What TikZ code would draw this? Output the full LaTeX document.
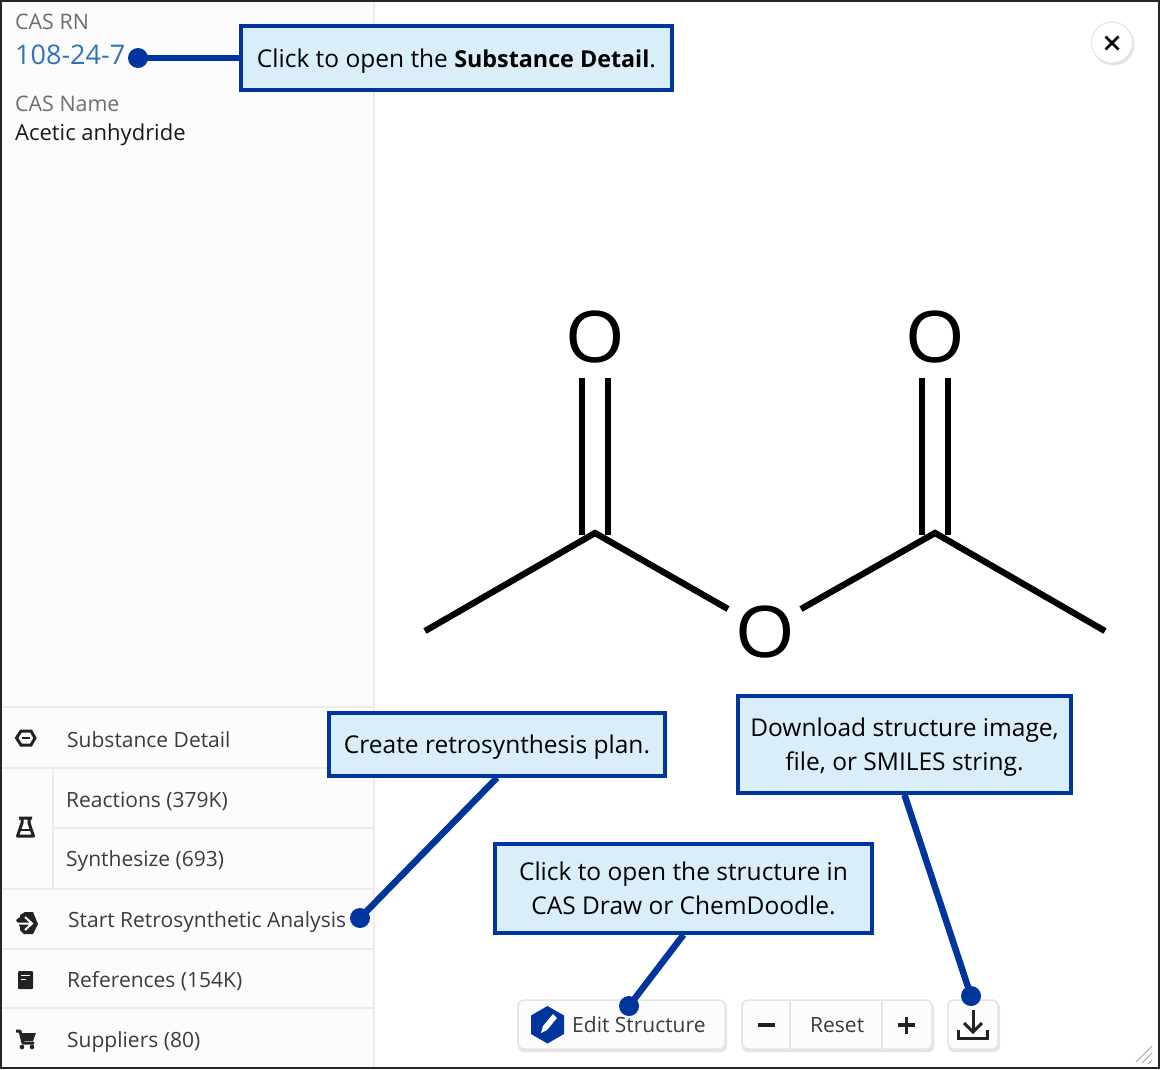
\documentclass[tikz,border=0pt]{standalone}
\usepackage{fontspec}
\setmainfont{Open Sans}
\newfontfamily\atomfont{Liberation Sans}
\definecolor{calloutblue}{HTML}{00359E}
\definecolor{calloutfill}{HTML}{DAEEFA}
\definecolor{panelfill}{HTML}{FCFCFC}
\definecolor{rulegray}{HTML}{ECECEC}
\definecolor{btnline}{HTML}{E4E4E4}
\definecolor{labelgray}{HTML}{6E6E6E}
\definecolor{textdark}{HTML}{3C3C3C}
\definecolor{linkblue}{HTML}{2F74B8}
\definecolor{icondark}{HTML}{222222}
\newcommand\dropthree[1]{\raisebox{-3pt}[\height][\depth]{#1}}
\newcommand\boldpart[1]{{\fontsize{23.3}{34}\selectfont\bfseries #1}}
\tikzset{
  callout/.style={draw=calloutblue,line width=3.5pt,fill=calloutfill,align=center,inner sep=0pt,font=\fontsize{24.5}{34}\selectfont,text=black},
  leader/.style={draw=calloutblue,line width=6.5pt},
  dotmark/.style={circle,fill=calloutblue,inner sep=0pt,minimum size=20pt},
  rowtext/.style={anchor=base west,inner sep=0pt,text=textdark,font=\fontsize{21}{25}\selectfont},
  headlabel/.style={anchor=base west,inner sep=0pt,text=labelgray,font=\fontsize{21.4}{25}\selectfont},
  panelrule/.style={draw=rulegray,line width=1.5pt},
  btn/.style={draw=btnline,line width=1.5pt,fill=panelfill,rounded corners=6pt},
  btnshadow/.style={fill=btnline,rounded corners=6pt},
  atom/.style={inner sep=0pt,font=\atomfont\fontsize{74}{74}\selectfont,text=black},
  bond/.style={draw=black,line width=6.3pt},
  icon/.style={draw=icondark,line width=3pt},
  iconfill/.style={fill=icondark},
}
\begin{document}
\begin{tikzpicture}[x=1pt,y=-1pt]
\useasboundingbox (0,0) rectangle (1160,1069);
\fill[white] (0,0) rectangle (1160,1069);
% left panel
\fill[panelfill] (2,2) rectangle (374,1067);
\draw[panelrule] (374,2) -- (374,1067);
\draw[panelrule] (2,707) -- (374,707);
\draw[panelrule] (2,768) -- (374,768);
\draw[panelrule] (53,828) -- (374,828);
\draw[panelrule] (2,889) -- (374,889);
\draw[panelrule] (2,949) -- (374,949);
\draw[panelrule] (2,1008) -- (374,1008);
\draw[panelrule] (53,768) -- (53,889);
% header text
\node[headlabel] (casrn) at (15,29) {CAS RN};
\node[anchor=base west,inner sep=0pt,text=linkblue,font=\fontsize{27}{30}\selectfont] (rn) at (15,64) {108-24-7};
\node[headlabel] (casname) at (15,111) {CAS Name};
\node[anchor=base west,inner sep=0pt,text=black!90,font=\fontsize{22}{25}\selectfont] (name) at (15,140) {Acetic anhydride};
% rows
\node[rowtext] (r1) at (67,747) {Substance Detail};
\node[rowtext] (r2) at (66,807) {Reactions (379K)};
\node[rowtext] (r3) at (66,866) {Synthesize (693)};
\node[rowtext] (r4) at (68,927) {Start Retrosynthetic Analysis};
\node[rowtext] (r5) at (67,987) {References (154K)};
\node[rowtext] (r6) at (67,1047) {Suppliers (80)};
% row icons
\draw[icon] (16.5,738) -- (21,731) -- (31,731) -- (35,738) -- (31,745) -- (21,745) -- cycle;
\draw[icon,line width=2pt] (22,738) -- (30,738);
\draw[icon,line join=round] (19,818) -- (32,818) (22,818) -- (22,823) -- (17.5,836) -- (33.5,836) -- (29,823) -- (29,818);
\draw[icon,line width=2pt] (20,830) -- (31,830);
\fill[icondark] (16,920) -- (20,917) -- (20,915) -- (25,912) -- (33,912) -- (38,924) -- (33,934) -- (24,934) -- (20,930) -- (20,927) -- cycle;
\draw[white,line width=2pt] (15,923.5) -- (30,923.5) (25,917) -- (32,923.5) -- (25,930);
\fill[icondark,rounded corners=1pt] (18,971) rectangle (33,989);
\draw[white,line width=1.5pt] (21,975.5) -- (30,975.5) (21,979.5) -- (26,979.5);
\draw[icon,line join=round] (16,1031) -- (20,1031) -- (23,1043) -- (34,1043);
\fill[icondark] (21,1033) -- (36,1033) -- (33,1041) -- (23,1041) -- cycle;
\fill[icondark] (22,1047) circle (2.3) (32,1047) circle (2.3);
% close button
\fill[btnline] (1113.5,44.5) circle (21);
\draw[draw=btnline,line width=1pt,fill=white] (1112,42.5) circle (20.5);
\draw[draw=black,line width=2.8pt] (1105.5,36.5) -- (1118.5,49.5) (1118.5,36.5) -- (1105.5,49.5);
% molecule
\node[atom] (o1) at (595,337) {O};
\node[atom] (o2) at (935,337) {O};
\node[atom] (o3) at (765,632) {O};
\coordinate (c1) at (595,533);
\coordinate (c2) at (935,533);
\coordinate (me1) at (425,631);
\coordinate (me2) at (1105,631);
\coordinate (o3l) at (728,609);
\coordinate (o3r) at (801,609);
\draw[bond,line join=miter] (me1) -- (c1) -- (o3l);
\draw[bond,line join=miter] (o3r) -- (c2) -- (me2);
\draw[bond] (582,378) -- (582,535) (608,378) -- (608,535);
\draw[bond] (922,378) -- (922,535) (948,378) -- (948,535);
% buttons
\fill[btnshadow] (518,1002) rectangle (727,1052);
\draw[btn] (518,1000) rectangle (725,1049);
\fill[btnshadow] (742,1002) rectangle (934,1052);
\draw[btn] (742,1000) rectangle (932,1049);
\draw[draw=btnline,line width=1.5pt] (790,1000) -- (790,1051) (882,1000) -- (882,1051);
\fill[btnshadow] (948,1002) rectangle (1000,1052);
\draw[btn] (948,1000) rectangle (998,1049);
\fill[calloutblue] (547.5,1006) -- (564,1015.5) -- (564,1034) -- (547.5,1043.5) -- (531,1034) -- (531,1015.5) -- cycle;
\fill[white] (553,1014) -- (557,1018) -- (547,1030) -- (541,1033) -- (543,1026) -- cycle;
\node[rowtext] (edit) at (572,1032) {Edit Structure};
\node[rowtext] (reset) at (810,1032) {Reset};
\draw[icondark,line width=3.5pt] (758,1025) -- (775,1025);
\draw[icondark,line width=3.5pt] (898,1025) -- (915,1025) (906.5,1016.5) -- (906.5,1033.5);
\draw[icondark,line width=3pt] (973,1010) -- (973,1031);
\draw[icondark,line width=3pt] (964,1023) -- (973,1032) -- (982,1023);
\draw[icondark,line width=3pt] (958,1030) -- (958,1038) -- (987,1038) -- (987,1030);
% resize grip
\draw[gray!70,line width=1pt] (1136,1062) -- (1152,1046) (1142,1063) -- (1152,1053) (1148,1064) -- (1152,1060);
% callouts
\node[callout,minimum width=431pt,minimum height=64pt] (c_a) at (456.5,58) {\dropthree{Click to open the \boldpart{Substance Detail}.}};
\node[callout,minimum width=336pt,minimum height=63pt] (c_b) at (497,744.5) {\dropthree{Create retrosynthesis plan.}};
\node[callout,minimum width=377pt,minimum height=89pt] (c_c) at (683.5,888.5) {Click to open the structure in\\CAS Draw or ChemDoodle.};
\node[callout,minimum width=333pt,minimum height=97pt] (c_d) at (904.5,744.5) {\dropthree{\parbox{325pt}{\centering Download structure image,\\file, or SMILES string.}}};
\node[dotmark] (d_a) at (138,58) {};
\node[dotmark] (d_b) at (360,918) {};
\node[dotmark] (d_c) at (629,1006) {};
\node[dotmark] (d_d) at (971,996) {};
\draw[leader] (d_a.center) -- (c_a.west);
\draw[leader] (d_b.center) -- (c_b.south);
\draw[leader] (d_c.center) -- (c_c.south);
\draw[leader] (d_d.center) -- (c_d.south);
% frame
\draw[draw=black!85,line width=1.8pt] (1,1) rectangle (1159,1068);
\end{tikzpicture}
\end{document}
